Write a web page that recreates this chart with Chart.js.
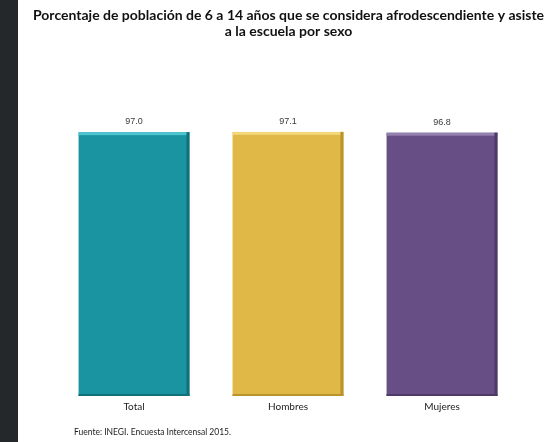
<!DOCTYPE html>
<html>
<head>
<meta charset="utf-8">
<script src="https://cdn.jsdelivr.net/npm/chart.js@4/dist/chart.umd.min.js"></script>
<style>
  html, body { margin: 0; padding: 0; }
  body { width: 559px; height: 442px; background: #25282b; overflow: hidden; }
  #panel { position: absolute; left: 18px; top: 0; width: 541px; height: 442px; background: #ffffff; }
</style>
</head>
<body>
<div id="panel"><canvas id="escuela-chart" width="541" height="442"></canvas></div>
<script>
// datos
const categorias = ['Total', 'Hombres', 'Mujeres'];
const porcentajes = [97.0, 97.1, 96.8];
const colores = ['#1a94a1', '#dfb847', '#674f86'];
const coloresBorde = ['#12707a', '#b8942f', '#4e3a68'];
const coloresBrillo = ['#4fc3cf', '#f3d77a', '#9580b0'];
const titulo = ['Porcentaje de población de 6 a 14 años que se considera afrodescendiente y asiste', 'a la escuela por sexo'];
const fuente = 'Fuente: INEGI. Encuesta Intercensal 2015.';

// titulo, etiquetas de valor y bisel de las barras
const barExtras = {
    id: 'barExtras',
    afterDatasetsDraw(chart) {
        const ctx = chart.ctx;
        const meta = chart.getDatasetMeta(0);
        ctx.save();
        meta.data.forEach(function(bar, i){
            const left = bar.x - bar.width / 2;
            const right = bar.x + bar.width / 2;
            // brillo arriba
            ctx.fillStyle = coloresBrillo[i];
            ctx.fillRect(left, bar.y, bar.width, 3);
            // sombra a la derecha
            ctx.fillStyle = coloresBorde[i];
            ctx.fillRect(right - 3, bar.y, 3, bar.base - bar.y);
            ctx.fillRect(left, bar.base - 2, bar.width, 2);
            // valor
            ctx.fillStyle = '#3a3a3a';
            ctx.font = '9px "Liberation Sans", Arial, sans-serif';
            ctx.textAlign = 'center';
            ctx.textBaseline = 'bottom';
            ctx.fillText(porcentajes[i].toFixed(1), bar.x, bar.y - 6);
        });
        // titulo
        ctx.fillStyle = '#111';
        ctx.font = 'bold 14px Lato, "Open Sans", sans-serif';
        ctx.textAlign = 'center';
        ctx.textBaseline = 'middle';
        ctx.fillText(titulo[0], chart.width / 2, 15);
        ctx.fillText(titulo[1], chart.width / 2, 31);
        // fuente
        ctx.fillStyle = '#222';
        ctx.font = '8.5px Lato, "Open Sans", sans-serif';
        ctx.textAlign = 'left';
        ctx.fillText(fuente, chart.chartArea.left + 17, 432);
        ctx.restore();
    }
};

const ctx = document.getElementById('escuela-chart').getContext('2d');
new Chart(ctx, {
    type: 'bar',
    data: {
        labels: categorias,
        datasets: [{
            data: porcentajes,
            backgroundColor: colores,
            borderWidth: 0,
            barPercentage: 0.8,
            categoryPercentage: 0.9
        }]
    },
    options: {
        responsive: false,
        animation: false,
        layout: {
            padding: { left: 39, right: 40, top: 124, bottom: 24 }
        },
        scales: {
            y: {
                display: false,
                min: 0,
                max: 100
            },
            x: {
                grid: { display: false, drawTicks: false },
                border: { display: false },
                ticks: {
                    padding: 5,
                    color: '#222',
                    font: { family: 'Lato, "Open Sans", sans-serif', size: 10 }
                }
            }
        },
        plugins: {
            legend: { display: false },
            tooltip: { enabled: false },
            title: { display: false }
        }
    },
    plugins: [barExtras]
});
</script>
</body>
</html>
